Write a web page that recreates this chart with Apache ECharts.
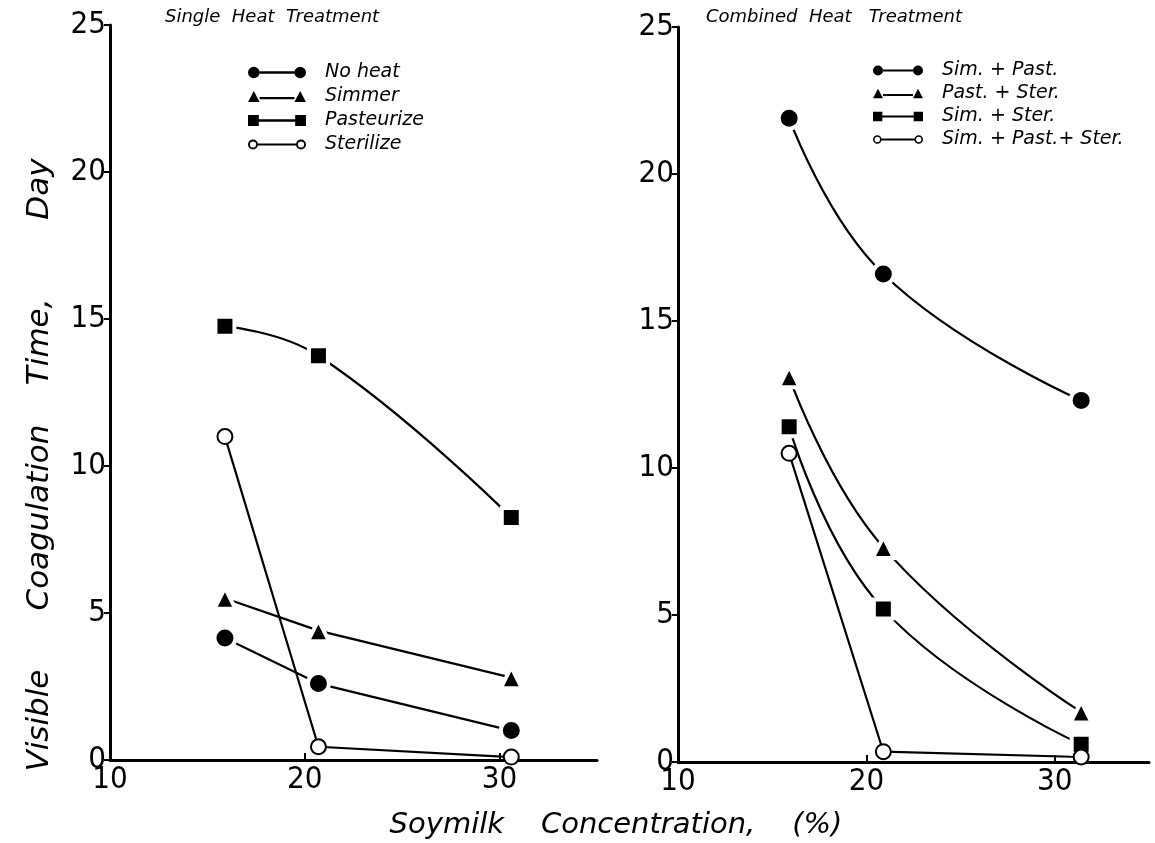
<!DOCTYPE html>
<html>
<head>
<meta charset="utf-8">
<script src="https://cdn.jsdelivr.net/npm/echarts@6/dist/echarts.min.js"></script>
<style>html,body{margin:0;padding:0;background:#fff;}#c{width:1155px;height:843px;}</style>
</head>
<body>
<div id="c"></div>
<script>
// ---- data ----
const leftX = [15.9, 20.7, 30.6];
const noHeat = [4.15, 2.6, 1.0];
const simmer = [5.5, 4.4, 2.8];
const pasteurize = [14.75, 13.75, 8.25];
const sterilize = [11.0, 0.45, 0.1];

const rightX = [15.9, 20.9, 31.4];
const simPast = [21.9, 16.6, 12.3];
const pastSter = [13.1, 7.3, 1.7];
const simSter = [11.4, 5.2, 0.6];
const simPastSter = [10.5, 0.35, 0.17];

const yTicks = [0, 5, 10, 15, 20, 25];
const xTicks = [10, 20, 30];

const leftNames = ['No heat', 'Simmer', 'Pasteurize', 'Sterilize'];
const rightNames = ['Sim. + Past.', 'Past. + Ster.', 'Sim. + Ster.', 'Sim. + Past.+ Ster.'];

// ---- helpers ----
const pair = (xs, ys) => xs.map((x, i) => [x, ys[i]]);
const ICON = {
  circle: 'path://M0,6a6,6 0 1,0 12,0a6,6 0 1,0 -12,0Z M12,4.8H48V7.2H12Z M48,6a6,6 0 1,0 12,0a6,6 0 1,0 -12,0Z',
  triangle: 'path://M0,12L6,0.5L12,12Z M12,6.8H48V9.2H12Z M48,12L54,0.5L60,12Z',
  rect: 'path://M0.5,0.5H11.5V11.5H0.5Z M11,4.8H49V7.2H11Z M48.5,0.5H59.5V11.5H48.5Z',
  empty: 'path://M1,6a5,5 0 1,0 10,0a5,5 0 1,0 -10,0Z M2.9,6a3.1,3.1 0 1,1 6.2,0a3.1,3.1 0 1,1 -6.2,0Z M11,4.9H49V7.1H11Z M49,6a5,5 0 1,0 10,0a5,5 0 1,0 -10,0Z M50.9,6a3.1,3.1 0 1,1 6.2,0a3.1,3.1 0 1,1 -6.2,0Z'
};
function mk(name, xs, ys, grid, shape, smooth) {
  const filled = shape !== 'empty';
  return {
    name, type: 'line', xAxisIndex: grid, yAxisIndex: grid,
    data: pair(xs, ys),
    smooth: smooth ? 0.45 : false,
    symbol: filled ? shape : 'emptyCircle',
    symbolSize: shape === 'circle' ? 21 : shape === 'triangle' ? 21 : shape === 'rect' ? 19 : 15,
    lineStyle: { color: '#000', width: 2.2 },
    itemStyle: filled ? { color: '#000', borderColor: '#fff', borderWidth: 4 } : { color: '#000', borderColor: '#000', borderWidth: 2.5 },
    emphasis: { disabled: true },
    z: 3
  };
}
const tickFont = { fontFamily: '"Liberation Sans Narrow", "DejaVu Sans Condensed", "Liberation Sans", sans-serif', fontSize: 31, color: '#000' };
function xAx(grid) {
  return {
    type: 'value', gridIndex: grid, min: 10, max: 35, interval: 10,
    axisLine: { lineStyle: { color: '#000', width: 3 } },
    axisTick: { inside: true, length: 7, lineStyle: { color: '#000', width: 2 } },
    axisLabel: Object.assign({ margin: 4, showMaxLabel: false,
      formatter: v => xTicks.includes(v) ? String(v) : '' }, tickFont),
    splitLine: { show: false }
  };
}
function yAx(grid) {
  return {
    type: 'value', gridIndex: grid, min: 0, max: 25, interval: 5,
    axisLine: { show: true, lineStyle: { color: '#000', width: 3 } },
    axisTick: { show: true, length: 6, lineStyle: { color: '#000', width: 2 } },
    axisLabel: Object.assign({ margin: 4, formatter: v => yTicks.includes(v) ? String(v) : '' }, tickFont),
    splitLine: { show: false }
  };
}
const legendText = { fontFamily: 'DejaVu Sans', fontStyle: 'italic', fontSize: 19, color: '#000', padding: [0, 0, 0, 14] };
const legendItem = { color: '#000', borderWidth: 0, borderColor: 'transparent' };

const chart = echarts.init(document.getElementById('c'), null, { renderer: 'canvas' });
chart.setOption({
  animation: false,
  backgroundColor: '#fff',
  grid: [
    { left: 110, top: 25, width: 487, height: 735 },
    { left: 678, top: 27, width: 471, height: 735 }
  ],
  xAxis: [xAx(0), xAx(1)],
  yAxis: [yAx(0), yAx(1)],
  legend: [
    { orient: 'vertical', left: 243, top: 58, itemWidth: 58, itemHeight: 12, itemGap: 5,
      textStyle: legendText, selectedMode: false, itemStyle: legendItem, lineStyle: { width: 0 },
      data: [
        { name: leftNames[0], icon: ICON.circle },
        { name: leftNames[1], icon: ICON.triangle },
        { name: leftNames[2], icon: ICON.rect },
        { name: leftNames[3], icon: ICON.empty }
      ] },
    { orient: 'vertical', left: 868, top: 56, itemWidth: 50, itemHeight: 12, itemGap: 4,
      textStyle: legendText, selectedMode: false, itemStyle: legendItem, lineStyle: { width: 0 },
      data: [
        { name: rightNames[0], icon: ICON.circle },
        { name: rightNames[1], icon: ICON.triangle },
        { name: rightNames[2], icon: ICON.rect },
        { name: rightNames[3], icon: ICON.empty }
      ] }
  ],
  graphic: [
    { type: 'text', left: 165, top: 8, style: { text: 'Single  Heat  Treatment', fill: '#000',
        font: 'italic 18px "DejaVu Sans"' } },
    { type: 'text', left: 706, top: 8, style: { text: 'Combined  Heat   Treatment', fill: '#000',
        font: 'italic 18px "DejaVu Sans"' } },
    { type: 'text', x: 40, y: 465, rotation: Math.PI / 2,
      style: { text: 'Visible      Coagulation    Time,        Day', fill: '#000',
        font: 'italic 31px "DejaVu Sans"', align: 'center', verticalAlign: 'middle' } },
    { type: 'text', x: 616, y: 825,
      style: { text: 'Soymilk    Concentration,    (%)', fill: '#000',
        font: 'italic 29px "DejaVu Sans"', align: 'center', verticalAlign: 'middle' } }
  ],
  series: [
    mk(leftNames[0], leftX, noHeat, 0, 'circle', false),
    mk(leftNames[1], leftX, simmer, 0, 'triangle', false),
    mk(leftNames[2], leftX, pasteurize, 0, 'rect', true),
    mk(leftNames[3], leftX, sterilize, 0, 'empty', false),
    mk(rightNames[0], rightX, simPast, 1, 'circle', true),
    mk(rightNames[1], rightX, pastSter, 1, 'triangle', true),
    mk(rightNames[2], rightX, simSter, 1, 'rect', true),
    mk(rightNames[3], rightX, simPastSter, 1, 'empty', false)
  ]
});
</script>
</body>
</html>
